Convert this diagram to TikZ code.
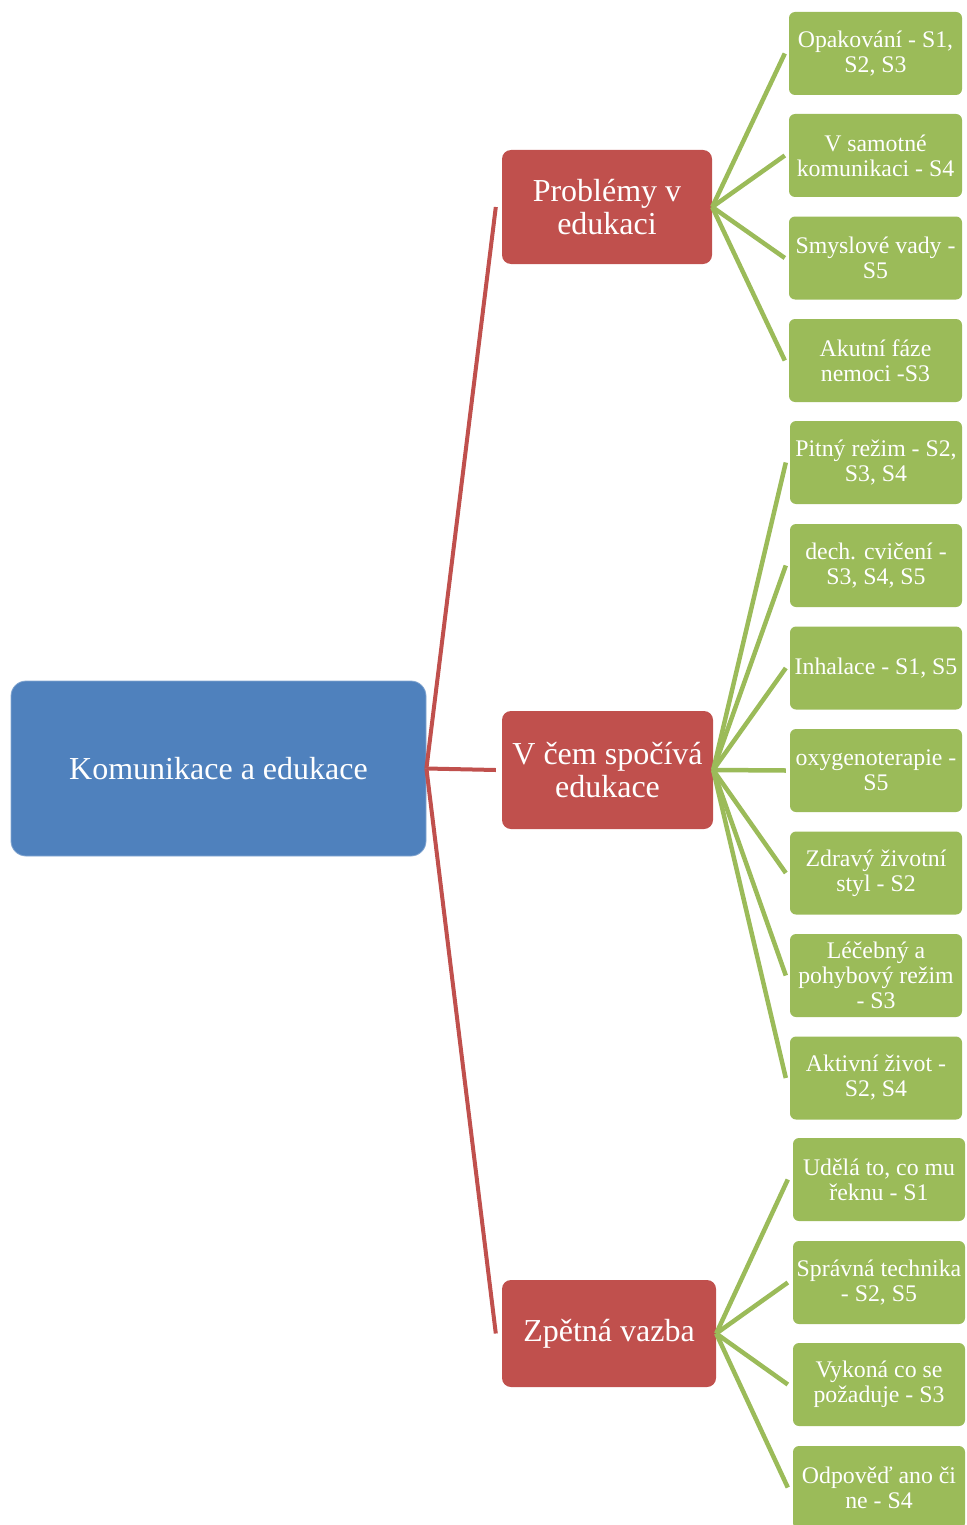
\documentclass[tikz,border=0pt]{standalone}
\usepackage{fontspec}
\setmainfont{Liberation Serif}
\definecolor{cblue}{HTML}{4F81BD}
\definecolor{cred}{HTML}{C0504D}
\definecolor{cgreen}{HTML}{9BBB59}
\begin{document}
\begin{tikzpicture}[x=1pt,y=-1pt,
 rootbox/.style={fill=cblue, draw=cblue!70!white, line width=0.8pt, rounded corners=15pt, text=white, inner sep=0pt, align=center, font=\fontsize{32}{34}\selectfont, minimum width=415pt, minimum height=175pt},
 redbox/.style={fill=cred, rounded corners=9pt, text=white, inner sep=0pt, align=center, font=\fontsize{32}{33}\selectfont},
 greenbox/.style={fill=cgreen, rounded corners=6pt, text=white, inner sep=0pt, align=center, font=\fontsize{23.8}{25}\selectfont, minimum width=173pt, minimum height=83pt},
 redline/.style={draw=cred, line width=4pt},
 greenline/.style={draw=cgreen, line width=4.5pt}]
\useasboundingbox (0,0) rectangle (966,1525);

\node[rootbox] (root) at (218.5,768.5) {Komunikace a edukace};

\node[redbox, minimum width=210pt, minimum height=114pt] (p1) at (607,207) {Problémy v\\edukaci};
\node[redbox, minimum width=211pt, minimum height=118pt] (p2) at (607.5,770) {V čem spočívá\\edukace};
\node[redbox, minimum width=214pt, minimum height=107pt] (p3) at (609,1333.5) {Zpětná vazba};

% group 1
\node[greenbox] (a1) at (875.5,53.5) {Opakování - S1,\\S2, S3};
\node[greenbox] (a2) at (875.5,155.5) {V samotné\\komunikaci - S4};
\node[greenbox] (a3) at (875.5,258) {Smyslové vady -\\S5};
\node[greenbox] (a4) at (875.5,360.5) {Akutní fáze\\nemoci -S3};
% group 2
\node[greenbox, minimum width=172pt] (b1) at (876,462.5) {Pitný režim - S2,\\S3, S4};
\node[greenbox, minimum width=172pt] (b2) at (876,565.5) {dech. cvičení -\\S3, S4, S5};
\node[greenbox, minimum width=172pt] (b3) at (876,668) {Inhalace - S1, S5};
\node[greenbox, minimum width=172pt] (b4) at (876,770.5) {oxygenoterapie -\\S5};
\node[greenbox, minimum width=172pt] (b5) at (876,873) {Zdravý životní\\styl - S2};
\node[greenbox, minimum width=172pt] (b6) at (876,975.5) {Léčebný a\\pohybový režim\\- S3};
\node[greenbox, minimum width=172pt] (b7) at (876,1078) {Aktivní život -\\S2, S4};
% group 3
\node[greenbox, minimum width=172pt] (c1) at (879,1179.5) {Udělá to, co mu\\řeknu - S1};
\node[greenbox, minimum width=172pt] (c2) at (879,1282.5) {Správná technika\\- S2, S5};
\node[greenbox, minimum width=172pt] (c3) at (879,1384.5) {Vykoná co se\\požaduje - S3};
\node[greenbox, minimum width=172pt] (c4) at (879,1487.5) {Odpověď ano či\\ne - S4};

% red connectors
\foreach \n in {p1,p2,p3}
  \draw[redline] (root.east) -- ([xshift=-6pt]\n.west);

% green connectors
\foreach \n in {a1,a2,a3,a4}
  \draw[greenline] (p1.east) -- ([xshift=-4pt]\n.west);
\foreach \n in {b1,b2,b3,b4,b5,b6,b7}
  \draw[greenline] (p2.east) -- ([xshift=-4pt]\n.west);
\foreach \n in {c1,c2,c3,c4}
  \draw[greenline] (p3.east) -- ([xshift=-5pt]\n.west);
\end{tikzpicture}
\end{document}
